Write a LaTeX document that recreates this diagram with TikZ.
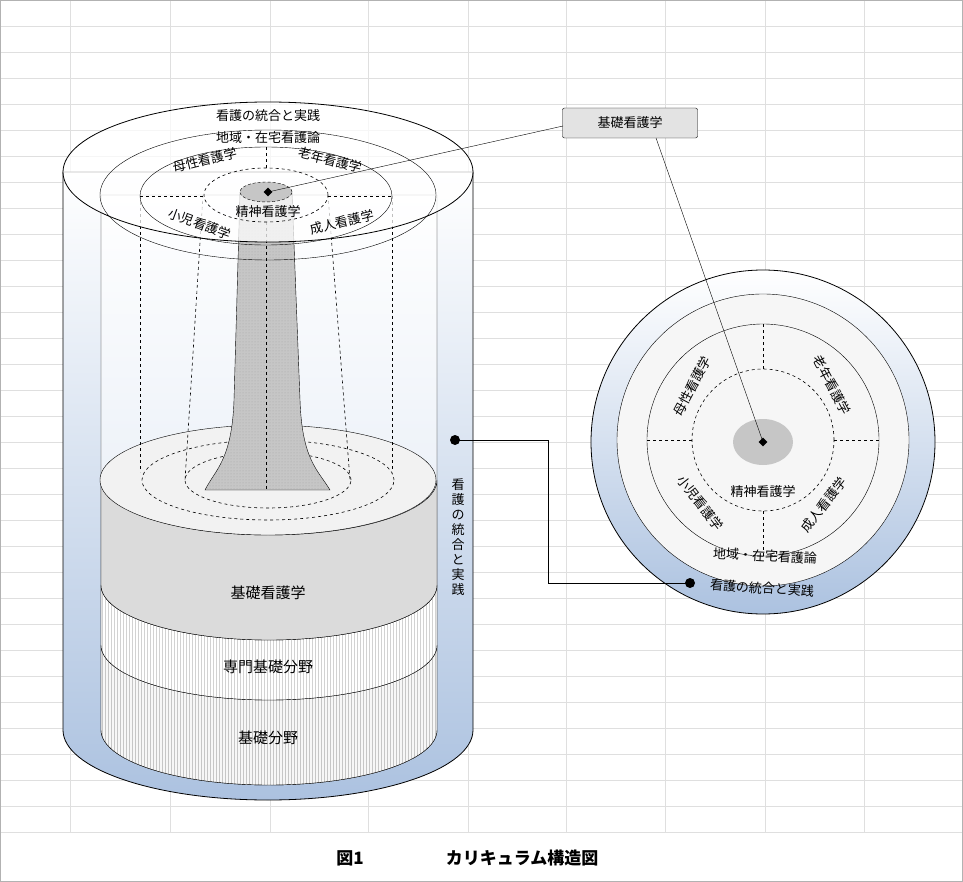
\documentclass[tikz,border=0pt]{standalone}
\usepackage{fontspec}
\newfontfamily\jp{Noto Sans CJK JP}
\usetikzlibrary{patterns,shapes.geometric,calc}
\definecolor{skyb}{RGB}{172,194,224}

\begin{document}
\begin{tikzpicture}[x=1pt,y=1pt,font=\jp\fontsize{13}{15}\selectfont,
  txt/.style={inner sep=0pt},
  part/.style={dashed,line width=0.6pt},
  dot/.style={circle,fill=black,inner sep=0pt,minimum size=10pt},
  pin/.style={diamond,fill=black,inner sep=0pt,minimum size=9pt},
  calloutbox/.style={draw,fill=gray!22,rounded corners=2pt,minimum width=135pt,minimum height=30pt}]
  \useasboundingbox (0,0) rectangle (963,-882);
  % sheet grid
  \foreach \gx in {70,170,270,368,468,566,665,765,864}
    \draw[gray!25] (\gx,0) -- (\gx,-832);
  \foreach \gy in {26,52,...,832}
    \draw[gray!25] (0,-\gy) -- (963,-\gy);
  \draw[gray!60] (0.5,-0.5) rectangle (962.5,-881.5);

  % outer cylinder
  \shade[top color=white,bottom color=skyb,draw=black,line width=0.8pt]
    (63,-172) -- (63,-730) arc[start angle=180,end angle=360,x radius=205,y radius=70]
    -- (473,-172) -- cycle;
  % inner cylinder
  \shade[top color=white,bottom color=skyb!45,draw=black]
    (101,-195) -- (101,-730) arc[start angle=180,end angle=360,x radius=168,y radius=55]
    -- (437,-195) -- cycle;
  % layers
  \fill[gray!6] (101,-645) arc[start angle=180,end angle=360,x radius=168,y radius=55]
    -- (437,-730) arc[start angle=0,end angle=-180,x radius=168,y radius=55] -- cycle;
  \fill[pattern=vertical lines,pattern color=gray!45,draw=black]
    (101,-645) arc[start angle=180,end angle=360,x radius=168,y radius=55]
    -- (437,-730) arc[start angle=0,end angle=-180,x radius=168,y radius=55] -- cycle;
  \fill[white] (101,-585) arc[start angle=180,end angle=360,x radius=168,y radius=55]
    -- (437,-645) arc[start angle=0,end angle=-180,x radius=168,y radius=55] -- cycle;
  \fill[pattern=vertical lines,pattern color=gray!35,draw=black]
    (101,-585) arc[start angle=180,end angle=360,x radius=168,y radius=55]
    -- (437,-645) arc[start angle=0,end angle=-180,x radius=168,y radius=55] -- cycle;
  \fill[gray!28,draw=black]
    (101,-480) arc[start angle=180,end angle=360,x radius=168,y radius=55]
    -- (437,-585) arc[start angle=0,end angle=-180,x radius=168,y radius=55] -- cycle;
  \fill[gray!10,draw=black] (268,-480) ellipse[x radius=168,y radius=55];
  \draw[part] (268,-480) ellipse[x radius=126,y radius=40];
  \draw[part] (268,-480) ellipse[x radius=83,y radius=28];

  % dashed partitions through the cylinder
  \draw[part] (140,-196) -- (140,-472);
  \draw[part] (392,-196) -- (392,-472);
  \draw[part] (203,-195) -- (185,-480);
  \draw[part] (328,-195) -- (350,-480);

  % pillar
  \fill[gray!45,draw=black]
    (240,-192) -- (234,-400) .. controls (232,-460) and (215,-470) .. (205,-490)
    -- (330,-490) .. controls (318,-470) and (302,-460) .. (300,-400) -- (292,-192) -- cycle;
  \fill[pattern=dots,pattern color=gray!70]
    (240,-192) -- (234,-400) .. controls (232,-460) and (215,-470) .. (205,-490)
    -- (330,-490) .. controls (318,-470) and (302,-460) .. (300,-400) -- (292,-192) -- cycle;
  \draw[part] (266,-222) -- (266,-490);

  % top of outer cylinder
  \fill[white,opacity=0.75,draw=black,draw opacity=1,line width=0.8pt]
    (268,-172) ellipse[x radius=205,y radius=70];
  \draw (268,-195) ellipse[x radius=168,y radius=65];
  \draw (266,-196) ellipse[x radius=126,y radius=49];
  \draw[part] (266,-195) ellipse[x radius=62,y radius=27];
  \draw[part] (266,-147) -- (266,-168);
  \draw[part] (140,-196) -- (204,-196);
  \draw[part] (328,-196) -- (392,-196);
  \fill[gray!45,draw=black,densely dashed] (266,-192) ellipse[x radius=26,y radius=10];

  \node[txt] at (268,-116) {看護の統合と実践};
  \node[txt] at (268,-138) {地域・在宅看護論};
  \node[txt,rotate=14] at (205,-160) {母性看護学};
  \node[txt,rotate=-14] at (330,-160) {老年看護学};
  \node[txt,rotate=-20] at (200,-224) {小児看護学};
  \node[txt,rotate=14] at (342,-222) {成人看護学};
  \node[txt] at (268,-212) {精神看護学};
  \node[pin] (topdot) at (268,-192) {};

  \node[font=\jp\fontsize{15}{17}\selectfont] at (268,-593) {基礎看護学};
  \node[font=\jp\fontsize{15}{17}\selectfont] at (268,-667) {専門基礎分野};
  \node[font=\jp\fontsize{15}{17}\selectfont] at (268,-738) {基礎分野};
  \node[txt,align=center,font=\jp\fontsize{13}{15}\selectfont] at (458,-537)
    {看\\護\\の\\統\\合\\と\\実\\践};

  % right plan view
  \shade[top color=white,bottom color=skyb,draw=black,line width=0.8pt]
    (763,-442) circle[radius=172];
  \fill[gray!7,draw=black] (763,-440) circle[radius=146];
  \draw (763,-440) circle[radius=116];
  \draw[part] (763,-440) circle[radius=71];
  \foreach \a in {0,90,180,270}
    \draw[part] ($(763,-440)+(\a:71)$) -- ($(763,-440)+(\a:116)$);
  \fill[gray!45] (763,-442) ellipse[x radius=30,y radius=23];
  \node[pin] (plandot) at (763,-442) {};
  \node[txt,rotate=62] at (692,-386) {母性看護学};
  \node[txt,rotate=-62] at (832,-385) {老年看護学};
  \node[txt,rotate=-52] at (700,-503) {小児看護学};
  \node[txt,rotate=52] at (824,-505) {成人看護学};
  \node[txt] at (763,-492) {精神看護学};
  \node[txt,rotate=-3] at (765,-556) {地域・在宅看護論};
  \node[txt,rotate=-4] at (762,-588) {看護の統合と実践};

  % callouts
  \node[calloutbox] (callout) at (630,-123) {基礎看護学};
  \coordinate (calloutleft) at (563,-126);
  \coordinate (calloutdown) at (656,-138);
  \draw (calloutleft) -- (topdot.center);
  \draw (calloutdown) -- (plandot.center);
  \node[dot] (sidedot) at (455,-440) {};
  \node[dot] (ringdot) at (690,-583) {};
  \draw (sidedot.center) -- (548,-440) -- (548,-583) -- (ringdot.center);

  % caption
  \node[font=\jp\bfseries\fontsize{17}{19}\selectfont] at (350,-858) {図1};
  \node[font=\jp\bfseries\fontsize{17}{19}\selectfont] at (522,-858) {カリキュラム構造図};
\end{tikzpicture}
\end{document}
